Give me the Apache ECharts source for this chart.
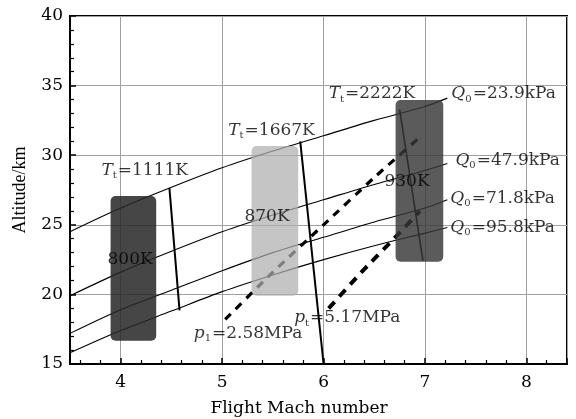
<!DOCTYPE html>
<html><head><meta charset="utf-8">
<script src="https://cdn.jsdelivr.net/npm/echarts@6/dist/echarts.min.js"></script>
<style>html,body{margin:0;padding:0;background:#fff}#c{width:576px;height:419px}</style>
</head><body><div id="c"></div>
<script>
// ---- data ----
const machTicks = [4, 5, 6, 7, 8];
const altTicks = [15, 20, 25, 30, 35, 40];
// constant dynamic pressure lines (Mach, altitude km)
const qLine239 = [[3.5,24.5],[4,26.2],[4.5,27.7],[5,29.1],[5.5,30.3],[6,31.4],[6.5,32.5],[7,33.5],[7.22,34.1]];
const qLine479 = [[3.5,19.9],[4,21.6],[4.5,23.1],[5,24.5],[5.5,25.7],[6,26.8],[6.5,27.9],[7,28.9],[7.22,29.4]];
const qLine718 = [[3.5,17.2],[4,18.9],[4.5,20.3],[5,21.7],[5.5,23.0],[6,24.1],[6.5,25.2],[7,26.2],[7.22,26.8]];
const qLine958 = [[3.5,15.8],[4,17.4],[4.5,18.8],[5,20.2],[5.5,21.4],[6,22.5],[6.5,23.5],[7,24.4],[7.22,24.8]];
// constant total temperature lines
const tLine1111 = [[4.48,27.65],[4.58,18.85]];
const tLine1667 = [[5.77,31.0],[6.0,15.0]];
const tLine2222 = [[6.75,33.3],[6.98,22.4]];
// constant pressure dashed lines
const pLine258 = [[5.03,18.2],[5.5,21.6],[6.0,25.0],[6.5,28.4],[6.95,31.3]];
const pLine517 = [[6.05,19.0],[6.4,21.8],[6.72,24.2],[6.95,26.0]];
// shaded regions: [machMin, machMax, altMin, altMax]
const region800 = [3.90, 4.35, 16.67, 27.07];
const region870 = [5.29, 5.75, 19.90, 30.66];
const region930 = [6.71, 7.18, 22.35, 33.97];
// annotation texts and anchor (Mach, altitude)
const annoTexts = [
  '{i|T}{s|t}{n|=1111K}', '{i|T}{s|t}{n|=1667K}', '{i|T}{s|t}{n|=2222K}',
  '{i|Q}{s|0}{n|=23.9kPa}', '{i|Q}{s|0}{n|=47.9kPa}', '{i|Q}{s|0}{n|=71.8kPa}', '{i|Q}{s|0}{n|=95.8kPa}',
  '{n|800K}', '{n|870K}', '{n|930K}',
  '{i|p}{s|1}{n|=2.58MPa}', '{i|p}{s|t}{n|=5.17MPa}'
];
const annoPos = [
  [3.81,28.9],[5.06,31.8],[6.05,34.4],
  [7.26,34.4],[7.30,29.6],[7.25,26.9],[7.25,24.8],
  [3.87,22.5],[5.22,25.6],[6.60,28.1],
  [4.72,17.2],[5.71,18.3]
];

const SERIF = 'DejaVu Serif';
const chart = echarts.init(document.getElementById('c'), null, {renderer: 'canvas'});

function lineSeries(data, width, dash, color) {
  return {
    type: 'line', data: data, showSymbol: false, symbol: 'none', smooth: 0.3,
    lineStyle: {color: color || '#000', width: width, type: dash || 'solid'},
    z: 2, silent: true, animation: false
  };
}
function boxSeries(box, color) {
  return {
    type: 'custom', z: 3, silent: true, animation: false,
    data: [box],
    renderItem: function (params, api) {
      const p0 = api.coord([api.value(0), api.value(3)]);
      const p1 = api.coord([api.value(1), api.value(2)]);
      return {type: 'rect', shape: {x: p0[0], y: p0[1], width: p1[0]-p0[0], height: p1[1]-p0[1], r: 5},
              style: {fill: color}};
    }
  };
}

const option = {
  backgroundColor: '#fff',
  animation: false,
  grid: {left: 70, top: 16, right: 9, bottom: 55, containLabel: false, outerBoundsMode: 'none',
         show: true, borderColor: '#000', borderWidth: 2, backgroundColor: 'transparent'},
  xAxis: {
    type: 'value', min: 3.5, max: 8.4,
    name: 'Flight Mach number', nameLocation: 'middle', nameGap: 36,
    nameTextStyle: {fontFamily: SERIF, fontSize: 17, color: '#000', padding: [0, 39, 0, 0]},
    axisLine: {show: true, lineStyle: {color: '#000', width: 2}},
    axisTick: {show: true, inside: true, length: 6, lineStyle: {color: '#000', width: 1.5}},
    minorTick: {show: true, splitNumber: 5, length: 4, lineStyle: {color: '#000', width: 1.2}},
    splitLine: {show: true, lineStyle: {color: '#a0a0a0', width: 1}},
    axisLabel: {fontFamily: SERIF, fontSize: 17, color: '#000', margin: 10,
      formatter: function (v) { return machTicks.indexOf(v) >= 0 ? String(v) : ''; }}
  },
  yAxis: {
    type: 'value', min: 15, max: 40, interval: 5,
    name: 'Altitude/km', nameLocation: 'middle', nameGap: 41, nameRotate: 90,
    nameTextStyle: {fontFamily: 'Liberation Serif', fontSize: 18, color: '#000'},
    axisLine: {show: true, lineStyle: {color: '#000', width: 2}},
    axisTick: {show: true, inside: true, length: 6, lineStyle: {color: '#000', width: 1.5}},
    minorTick: {show: true, splitNumber: 5, length: 4, lineStyle: {color: '#000', width: 1.2}},
    splitLine: {show: true, lineStyle: {color: '#a0a0a0', width: 1}},
    axisLabel: {fontFamily: SERIF, fontSize: 17, color: '#000', margin: 7,
      formatter: function (v) { return altTicks.indexOf(v) >= 0 ? String(v) : ''; }}
  },
  series: [
    lineSeries(qLine239, 1.1), lineSeries(qLine479, 1.1), lineSeries(qLine718, 1.1), lineSeries(qLine958, 1.1),
    lineSeries(tLine1111, 2), lineSeries(tLine1667, 2), lineSeries(tLine2222, 1.6),
    Object.assign(lineSeries(pLine258, 3.2, [8, 7]), {smooth: 0.2}),
    Object.assign(lineSeries(pLine517, 4, [9, 7]), {smooth: 0.2}),
    boxSeries(region800, 'rgba(40,40,40,0.86)'),
    boxSeries(region870, 'rgba(175,175,175,0.72)'),
    boxSeries(region930, 'rgba(55,55,55,0.82)'),
    {
      type: 'scatter', z: 5, silent: true, animation: false, symbolSize: 0,
      data: annoPos.map(function (p, i) { return {value: p, name: annoTexts[i]}; }),
      label: {
        show: true, position: 'right', distance: 0,
        formatter: function (p) { return p.name; },
        rich: {
          i: {fontFamily: SERIF, fontStyle: 'italic', fontSize: 17, color: '#000'},
          s: {fontFamily: SERIF, fontSize: 10, color: '#000', padding: [10, 1, 0, 0]},
          n: {fontFamily: SERIF, fontSize: 17, color: '#000'}
        }
      }
    }
  ]
};
chart.setOption(option);
</script>
</body></html>
